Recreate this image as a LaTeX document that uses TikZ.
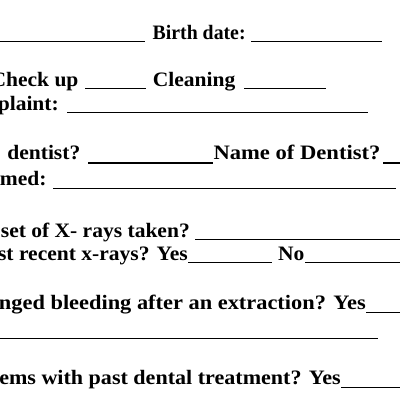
\documentclass[tikz,border=0pt]{standalone}
\usepackage{fontspec}
\newfontfamily\formfont[FakeStretch=1.05]{Liberation Serif}
\begin{document}
\begin{tikzpicture}[x=1pt,y=-1pt,
    lbl/.style={inner sep=0pt, font=\formfont\bfseries\fontsize{20.5}{23}\selectfont},
    blank/.style={line width=1.8pt}]
    \useasboundingbox (0,0) rectangle (400,400);
    \clip (0,0) rectangle (400,400);
    \draw[blank] (0,41.5) -- (145,41.5);
    \node[lbl, anchor=base west] (birth) at (152.5,39) {\scalebox{0.92}[1]{Birth date:}};
    \draw[blank] (251,41.5) -- (382,41.5);
    \node[lbl, anchor=base east] (checkup) at (78.7,86) {Check up};
    \draw[blank] (85,88.5) -- (146,88.5);
    \node[lbl, anchor=base west] (cleaning) at (152.7,86) {Cleaning};
    \draw[blank] (244,88.5) -- (326,88.5);
    \node[lbl, anchor=base east] (complaint) at (59,110) {plaint:};
    \draw[blank] (67,112.5) -- (368,112.5);
    \node[lbl, anchor=base east] (prevdentist) at (80.5,159.5) {dentist?};
    \draw[blank] (88,163) -- (213,163);
    \node[lbl, anchor=base west] (dentistname) at (213.3,159.5) {\scalebox{1.05}[1]{Name of Dentist?}};
    \draw[blank] (383,163) -- (400,163);
    \node[lbl, anchor=base east] (lastexam) at (46.7,185) {med:};
    \draw[blank] (53,188.5) -- (396,188.5);
    \node[lbl, anchor=base east] (xrayset) at (190,237) {set of X- rays taken?};
    \draw[blank] (195,239.5) -- (400,239.5);
    \node[lbl, anchor=base east] (xrayrecent) at (188,260) {st recent x-rays? Yes};
    \draw[blank] (188,262.5) -- (271.5,262.5);
    \node[lbl, anchor=base west] (xrayno) at (278,260) {No};
    \draw[blank] (305,262.5) -- (400,262.5);
    \node[lbl, anchor=base east] (bleeding) at (366,309) {\scalebox{1.04}[1]{nged bleeding after an extraction? Yes}};
    \draw[blank] (366,312.5) -- (400,312.5);
    \draw[blank] (0,338.5) -- (378,338.5);
    \node[lbl, anchor=base east] (pasttreat) at (341,384) {\scalebox{1.025}[1]{ems with past dental treatment? Yes}};
    \draw[blank] (341,387.5) -- (400,387.5);
\end{tikzpicture}
\end{document}
